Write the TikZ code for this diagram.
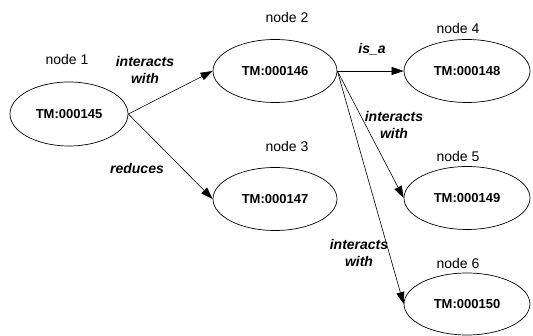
\documentclass[tikz,border=0pt]{standalone}
\usepackage{fontspec}
\setmainfont{Liberation Sans}
\usetikzlibrary{shapes.geometric,arrows.meta}
\begin{document}
\begin{tikzpicture}[x=1pt,y=-1pt,
  ell/.style={draw,ellipse,line width=0.7pt,minimum width=124pt,minimum height=63pt,inner sep=0pt,font=\fontsize{13}{15}\selectfont\bfseries},
  ttl/.style={font=\fontsize{14}{16}\selectfont,inner sep=0pt},
  lbl/.style={font=\fontsize{14}{16.5}\selectfont\bfseries\itshape,align=center,inner sep=0pt},
  arr/.style={line width=0.6pt,-{Triangle[length=12pt,width=8pt]}}]
\useasboundingbox (0,0) rectangle (533,336);
\node[ell,minimum width=118pt,minimum height=64pt] (n1) at (69,114) {TM:000145};
\node[ell] (n2) at (275,71) {TM:000146};
\node[ell] (n3) at (275,199) {TM:000147};
\node[ell,minimum width=126pt] (n4) at (467,71) {TM:000148};
\node[ell,minimum width=126pt] (n5) at (467,198) {TM:000149};
\node[ell,minimum width=126pt,minimum height=62pt] (n6) at (467,304) {TM:000150};
\node[ttl] (t1) at (67,60) {node 1};
\node[ttl] (t2) at (287,18) {node 2};
\node[ttl] (t3) at (287,146) {node 3};
\node[ttl] (t4) at (458,29) {node 4};
\node[ttl] (t5) at (458,156) {node 5};
\node[ttl] (t6) at (458,263) {node 6};
\draw[arr] (n1.east) -- (n2.west);
\draw[arr] (n1.east) -- (n3.west);
\draw[arr] (n2.east) -- (n4.west);
\draw[arr] (n2.east) -- (n5.west);
\draw[arr] (n2.east) -- (n6.west);
\node[lbl] (l1) at (145,70) {interacts\\with};
\node[lbl] (l2) at (137,169) {reduces};
\node[lbl] (l3) at (372,49) {is\_a};
\node[lbl] (l4) at (394,125) {interacts\\with};
\node[lbl] (l5) at (359,253) {interacts\\with};
\end{tikzpicture}
\end{document}
